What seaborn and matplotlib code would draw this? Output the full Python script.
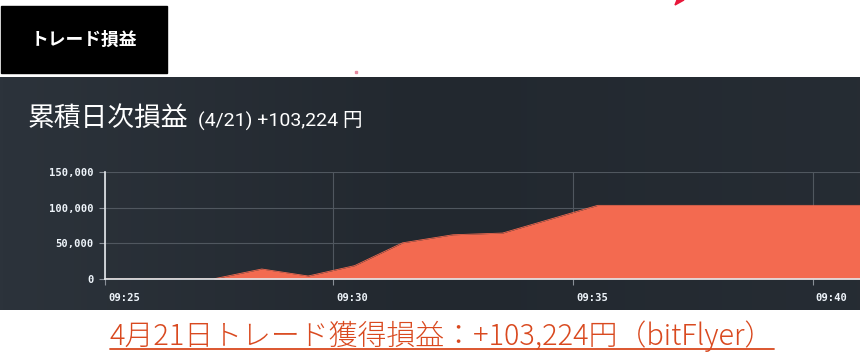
import matplotlib
matplotlib.use("Agg")
import matplotlib.pyplot as plt
import matplotlib.patches as mpatches
import matplotlib.transforms as mtransforms
import numpy as np
import pandas as pd
import seaborn as sns

# data
day = "2018-04-21 "
times = ["09:25:15", "09:26:30", "09:27:30", "09:28:31", "09:29:29", "09:30:27",
         "09:31:27", "09:32:30", "09:33:32", "09:35:31", "09:40:59"]
pnl = [0, 0, 0, 14000, 4200, 18700, 50700, 62000, 64400, 103224, 103224]
xtick_labels = ["09:25", "09:30", "09:35", "09:40"]
ytick_values = [0, 50000, 100000, 150000]

header = "トレード損益"
title = "累積日次損益"
subtitle = "(4/21) +103,224 円"
caption = "4月21日トレード獲得損益：+103,224円（bitFlyer）"

fill_c = "#f36a50"
W, H = 860, 353

sns.set_theme(style="dark")
plt.rcParams["font.family"] = ["Noto Sans CJK JP", "DejaVu Sans"]

fig = plt.figure(figsize=(W / 100, H / 100), dpi=100, facecolor="white")


def fy(py):
    return 1 - py / H


# dark panel with soft horizontal gradient
bg = fig.add_axes([0, fy(310), 1, fy(77) - fy(310)], zorder=0)
grad = np.interp(np.linspace(0, 1, 256), [0, 0.5, 1], [0, 1, 0.6])
c0 = np.array([0x2c, 0x33, 0x3b]) / 255
c1 = np.array([0x22, 0x28, 0x2f]) / 255
img = c0[None, :] * (1 - grad[:, None]) + c1[None, :] * grad[:, None]
bg.imshow(img[None, :, :], aspect="auto", extent=[0, 1, 0, 1])
bg.set_axis_off()

# black header box
fig.patches.append(mpatches.Rectangle((1 / W, fy(73)), 166 / W, fy(6) - fy(73),
                                      transform=fig.transFigure, color="black", zorder=1))
fig.text(84 / W, fy(40), header, color="white", fontsize=12.8, fontweight="bold",
         ha="center", va="center", zorder=2)

# small red mark at the top and pink dot
fig.patches.append(mpatches.Polygon([(675 / W, fy(5)), (677 / W, fy(0)), (684 / W, fy(0))],
                                    closed=True, transform=fig.transFigure,
                                    color="#e8173a", zorder=1))
fig.patches.append(mpatches.Rectangle((355 / W, fy(73)), 2 / W, 2 / H,
                                      transform=fig.transFigure, color="#e58aa0", zorder=1))

# panel title
t1 = fig.text(28 / W, fy(126), title, color="white", fontsize=19.3, va="baseline", zorder=3)
sub = fig.text(198 / W, fy(126), subtitle, color="white", fontsize=14, va="baseline",
               zorder=3, family=["Roboto", "Noto Sans CJK JP"])

# chart axes
ax = fig.add_axes([105 / W, fy(279), 1 - 105 / W, fy(172) - fy(279)], zorder=2)
ax.set_facecolor("none")
df = pd.DataFrame({"time": pd.to_datetime([day + t for t in times]), "pnl": pnl})
sns.lineplot(data=df, x="time", y="pnl", color=fill_c, lw=0.6, ax=ax, zorder=3)
ax.fill_between(df["time"], 0, df["pnl"], color=fill_c, lw=0, zorder=3)

ax.set_xlim(df["time"].iloc[0], df["time"].iloc[-1])
ax.set_ylim(0, 150000)
tick_pos = [df["time"].iloc[0]] + list(pd.to_datetime([day + t for t in xtick_labels[1:]]))
ax.set_xticks(tick_pos)
ax.set_xticklabels(xtick_labels, ha="left")
ax.set_yticks(ytick_values)
ax.set_yticklabels([f"{v:,}" for v in ytick_values])
ax.set_xlabel("")
ax.set_ylabel("")

ax.grid(True, color="#50575f", lw=0.8)
for s in ["top", "right"]:
    ax.spines[s].set_visible(False)
for s in ["left", "bottom"]:
    ax.spines[s].set_visible(True)
    ax.spines[s].set_color("#e4e8ec")
    ax.spines[s].set_linewidth(1.2)
    ax.spines[s].set_zorder(4)

ax.tick_params(axis="both", colors="#8a9098", length=4, width=0.8, direction="out",
               labelcolor="#eef4fa", labelsize=7.6)
ax.tick_params(axis="x", pad=6, bottom=True)
ax.tick_params(axis="y", pad=4, left=True)
for lab in ax.get_xticklabels() + ax.get_yticklabels():
    lab.set_family("DejaVu Sans Mono")
    lab.set_fontweight("bold")
offset = mtransforms.ScaledTranslation(3 / 100, 0, fig.dpi_scale_trans)
for lab in ax.get_xticklabels():
    lab.set_transform(lab.get_transform() + offset)

# caption with underline
cap = fig.text(442 / W, fy(336), caption, color="#d9491f", fontsize=20.8,
               fontweight="light", ha="center", va="center", zorder=3)

fig.canvas.draw()
r = fig.canvas.get_renderer()
bbc = cap.get_window_extent(r)
fig.add_artist(plt.Line2D([bbc.x0 / W, bbc.x1 / W], [fy(349), fy(349)],
                          transform=fig.transFigure, color="#d9491f", lw=1.3))

fig.savefig("out.png", dpi=100, facecolor="white")
